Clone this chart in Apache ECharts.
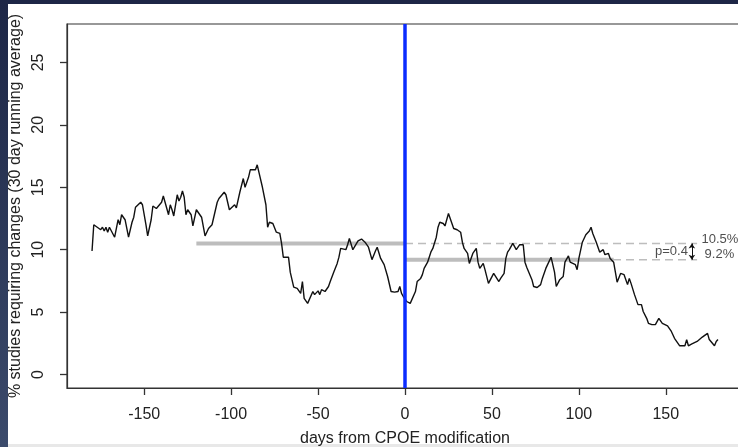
<!DOCTYPE html>
<html>
<head>
<meta charset="utf-8">
<script src="https://cdn.jsdelivr.net/npm/echarts@6/dist/echarts.min.js"></script>
<style>html,body{margin:0;padding:0;background:#fff;}#c{width:738px;height:447px;}</style>
</head>
<body>
<div id="c"></div>
<script>
// ---- data ----
const days = [-180,-179,-177,-175,-174,-173,-172,-171,-170,-169,-167,-165,-164,-163,-161,-159,-157,-156,-155,-154,-152,-151,-149,-148,-146,-145,-143,-142,-140,-139,-138,-136,-135,-134,-133,-131,-130,-129,-128,-127,-126,-125,-123,-122,-120,-119,-117,-115,-113,-111,-110,-108,-107,-106,-104,-103,-101,-100,-98,-97,-95,-93,-92,-90,-89,-88,-86,-85,-84,-82,-80,-79,-78,-76,-74,-72,-71,-70,-67,-66,-64,-62,-60,-59,-58,-56,-55,-53,-52,-50,-49,-48,-46,-44,-43,-41,-39,-38,-37,-36,-34,-33,-32,-30,-27,-25,-23,-21,-19,-17,-16,-14,-12,-10,-8,-6,-4,-3,-2,-1,0,1,3,4,6,7,9,10,11,13,15,16,18,19,20,22,23,25,26,28,30,32,33,34,36,37,38,39,41,42,43,45,46,48,49,51,52,54,55,57,58,59,60,62,63,64,66,68,69,70,71,73,74,76,78,79,81,82,84,85,86,87,89,91,92,94,95,96,98,99,100,101,102,103,104,106,107,108,110,111,112,114,115,117,118,120,121,122,123,124,125,126,128,129,130,132,133,134,136,137,139,140,142,144,146,148,149,151,153,155,156,158,161,162,163,165,168,171,174,175,176,178,179,180];
const pct = [9.9,12.0,11.8,11.6,11.8,11.5,11.8,11.4,11.8,11.7,11.0,12.4,12.0,12.8,12.4,11.0,12.2,12.6,13.4,13.5,13.8,13.6,12.0,11.1,12.4,13.5,13.3,13.4,13.8,14.3,13.8,12.8,13.6,13.2,12.7,14.4,13.9,14.2,14.7,14.2,12.8,13.2,12.8,11.9,13.2,13.2,12.6,11.1,11.7,12.0,12.0,13.8,14.1,14.0,14.6,14.4,13.2,13.3,13.6,13.35,14.6,15.7,15.0,15.8,16.4,16.3,16.4,16.8,16.2,15.0,13.6,11.8,12.2,12.1,11.4,11.3,10.5,9.4,9.4,8.2,7.0,6.9,6.5,7.45,6.1,5.7,5.85,6.65,6.4,6.7,6.4,6.8,6.65,7.05,7.45,8.2,8.9,9.4,10.1,10.2,10.0,10.4,10.9,10.0,10.7,10.85,10.6,10.2,9.2,9.9,10.2,9.3,8.8,7.85,6.65,6.6,6.65,7.05,6.5,6.25,6.1,5.85,5.7,5.7,6.65,7.45,7.7,8.0,8.5,9.0,9.85,10.1,11.0,11.8,12.2,12.1,11.9,12.9,12.5,11.7,11.6,11.4,10.6,10.1,9.7,8.9,9.0,9.7,10.1,9.0,8.5,8.9,8.4,7.3,7.2,8.1,8.0,7.45,7.7,8.1,9.3,9.8,10.0,10.5,10.4,10.0,10.4,10.4,9.0,8.6,8.5,7.6,7.05,6.97,7.2,7.7,8.5,8.8,9.4,9.3,8.2,7.05,7.6,7.85,9.0,9.5,9.0,9.1,8.8,8.4,9.3,9.4,10.6,10.6,11.2,11.5,11.8,11.3,10.6,10.5,9.8,10.0,9.6,9.7,9.3,9.0,8.2,7.4,7.3,8.1,8.2,8.0,7.2,7.7,7.3,6.4,6.0,5.6,5.6,5.05,4.5,4.1,4.0,4.0,4.5,4.1,4.0,3.9,3.5,2.9,2.8,2.3,2.3,2.8,2.3,2.45,2.65,3.0,3.3,2.8,2.9,2.3,2.65,2.8];
const xTicks = [-150,-100,-50,0,50,100,150];
const yTicks = [0,5,10,15,20,25];
const preMean = 10.5, postMean = 9.2;
const preStart = -120, postEnd = 120, dashEnd = 168;
const pText = 'p=0.4', preText = '10.5%', postText = '9.2%';

const series = days.map((d, i) => [d, pct[i]]);
const chart = echarts.init(document.getElementById('c'), null, {renderer: 'canvas'});
const FONT = 'Liberation Sans, Arial, sans-serif';
const TXT = '#222';
const AXC = '#333';

chart.setOption({
  animation: false,
  backgroundColor: '#ffffff',
  graphic: [
    {type: 'rect', left: 0, top: 0, shape: {width: 738, height: 4}, style: {fill: '#1d2646'}, z: 100},
    {type: 'rect', left: 0, top: 444, shape: {width: 738, height: 3}, style: {fill: '#e8e8e8'}, z: -5},
    {type: 'rect', left: 0, top: 0, shape: {width: 8, height: 447},
     style: {fill: new echarts.graphic.LinearGradient(0, 0, 0, 1, [{offset: 0, color: '#1d2646'}, {offset: 1, color: '#3b4a6b'}])}, z: 100}
  ],
  grid: {left: 67, top: 24, width: 676, height: 364, containLabel: false, outerBoundsMode: 'none',
         show: true, borderColor: AXC, borderWidth: 1.2, backgroundColor: 'transparent', z: -1},
  xAxis: {
    type: 'value', min: -194.4, max: 194.4, z: 10,
    name: 'days from CPOE modification', nameLocation: 'middle', nameGap: 43,
    nameTextStyle: {fontFamily: FONT, fontSize: 16, color: TXT},
    axisLine: {show: true, onZero: false, lineStyle: {color: AXC, width: 1.2}},
    axisTick: {show: true, inside: false, length: 7, customValues: xTicks, lineStyle: {color: AXC, width: 1.3}},
    axisLabel: {show: true, customValues: xTicks, margin: 19, fontFamily: FONT, fontSize: 16, color: TXT},
    splitLine: {show: false}
  },
  yAxis: {
    type: 'value', min: -1.08, max: 28.08, z: 10,
    name: '% studies requiring changes (30 day running average)', nameLocation: 'middle', nameGap: 40, nameRotate: 90,
    nameTextStyle: {fontFamily: FONT, fontSize: 16, color: TXT},
    axisLine: {show: true, onZero: false, lineStyle: {color: AXC, width: 1.2}},
    axisTick: {show: true, inside: false, length: 7, customValues: yTicks, lineStyle: {color: AXC, width: 1.3}},
    axisLabel: {show: true, customValues: yTicks, rotate: 90, margin: 20, fontFamily: FONT, fontSize: 16, color: TXT},
    splitLine: {show: false}
  },
  series: [
    {
      type: 'line', name: 'preDash', data: [[0, preMean], [dashEnd, preMean]], symbol: 'none', silent: true,
      lineStyle: {color: '#bdbdbd', width: 1.4, type: [8, 5]}, z: 1
    },
    {
      type: 'line', name: 'postDash', data: [[0, postMean], [dashEnd, postMean]], symbol: 'none', silent: true,
      lineStyle: {color: '#bdbdbd', width: 1.4, type: [8, 5]}, z: 1
    },
    {
      type: 'line', name: 'preMean', data: [[preStart, preMean], [0, preMean]], symbol: 'none', silent: true,
      lineStyle: {color: '#bdbdbd', width: 4}, z: 2
    },
    {
      type: 'line', name: 'postMean', data: [[0, postMean], [postEnd, postMean]], symbol: 'none', silent: true,
      lineStyle: {color: '#bdbdbd', width: 4}, z: 2
    },
    {
      type: 'line', name: 'running', data: series, symbol: 'none', silent: true,
      lineStyle: {color: '#111', width: 1.4}, z: 3,
      markLine: {
        silent: true, symbol: 'none', label: {show: false},
        lineStyle: {color: '#0b2cff', width: 3.5, type: 'solid'},
        data: [{xAxis: 0}]
      }
    },
    {
      type: 'scatter', name: 'annot', symbolSize: 0, silent: true, z: 5,
      data: [
        {value: [162.7, 9.86], label: {show: true, formatter: pText, position: 'left', distance: 0}},
        {value: [170.5, 10.8], label: {show: true, formatter: preText, position: 'right', distance: 0}},
        {value: [172.3, 9.66], label: {show: true, formatter: postText, position: 'right', distance: 0}}
      ],
      label: {fontFamily: FONT, fontSize: 13, color: '#222'},
      markLine: {
        silent: true, symbol: ['arrow', 'arrow'], symbolSize: [5, 5], label: {show: false},
        lineStyle: {color: '#111', width: 1, type: 'solid'},
        data: [[{coord: [165, preMean]}, {coord: [165, postMean]}]]
      }
    }
  ]
});
</script>
</body>
</html>
